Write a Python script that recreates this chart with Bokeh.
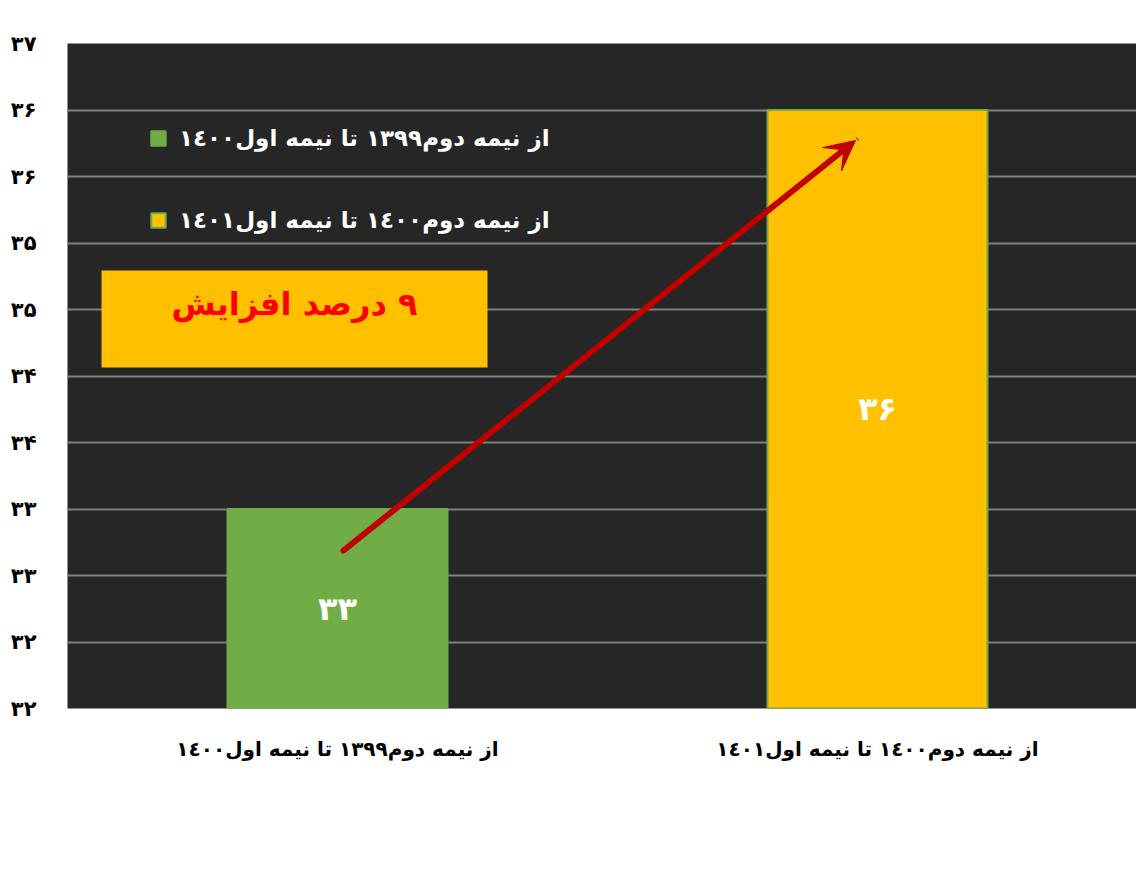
from bokeh.plotting import figure
from bokeh.models import (Range1d, FixedTicker, Legend, LegendItem, Arrow, VeeHead,
                          BoxAnnotation, Label, ColumnDataSource)
from bokeh.embed import file_html
from bokeh.resources import INLINE

# ---- data ----
categories = ["از نیمه دوم١٣٩٩ تا نیمه اول١٤٠٠", "از نیمه دوم١٤٠٠ تا نیمه اول١٤٠١"]
values = [33.5, 36.5]
value_labels = ["۳۳", "۳۶"]
bar_colors = ["#70AD47", "#FFC000"]
bar_lines = ["#70AD47", "#70AD47"]
y_ticks = [37, 36.5, 36, 35.5, 35, 34.5, 34, 33.5, 33, 32.5, 32]
y_tick_labels = ["۳۷", "۳۶", "۳۶", "۳۵", "۳۵", "۳۴", "۳۴", "۳۳", "۳۳", "۳۲", "۳۲"]
callout_text = "\u200f۹ درصد افزایش"
y_min, y_max = 32, 37

FONT = "DejaVu Sans"

W, H = 1136, 861
ML, MT = 67, 43
MB = H - MT - 665
frame_w = W - ML
slot_px = 540.0

xs = [i + 0.5 for i in range(len(categories))]
mids = [(v + y_min) / 2 for v in values]
src = ColumnDataSource(dict(x=xs, top=values, mid=mids, color=bar_colors,
                            line=bar_lines, lab=value_labels, cat=categories))

p = figure(width=W, height=H, x_range=Range1d(0, frame_w / slot_px),
           y_range=Range1d(y_min, y_max), output_backend="svg", toolbar_location=None,
           min_border_left=ML, min_border_right=0, min_border_top=MT,
           min_border_bottom=MB)
p.background_fill_color = "#262626"
p.border_fill_color = "white"
p.outline_line_color = None

p.xgrid.grid_line_color = None
p.ygrid.ticker = FixedTicker(ticks=y_ticks)
p.ygrid.grid_line_color = "#808080"
p.ygrid.grid_line_width = 2

bars = p.vbar(x="x", top="top", bottom=y_min, width=220 / slot_px, fill_color="color",
              line_color="line", line_width=2, source=src)

p.text(x="x", y="mid", text="lab", source=src, text_color="white",
       text_font_size="32px", text_font_style="bold", text_align="center",
       text_baseline="middle", text_font={"value": FONT})

# axes
p.yaxis.ticker = FixedTicker(ticks=y_ticks)
p.yaxis.major_label_overrides = {float(t): l for t, l in zip(y_ticks, y_tick_labels)}
p.xaxis.ticker = FixedTicker(ticks=xs)
p.xaxis.major_label_overrides = {float(x): c for x, c in zip(xs, categories)}
for ax in (p.xaxis[0], p.yaxis[0]):
    ax.axis_line_color = None
    ax.major_tick_line_color = None
    ax.minor_tick_line_color = None
    ax.major_label_text_color = "black"
    ax.major_label_text_font = FONT
    ax.major_label_text_font_style = "bold"
p.yaxis.major_label_text_font_size = "21px"
p.yaxis.major_label_standoff = 25
p.xaxis.major_label_text_font_size = "20px"
p.xaxis.major_label_standoff = 22

# callout box
y_per_px = (y_max - y_min) / 665.0
def px_y(py):
    return y_max - (py - 43) * y_per_px
def px_x(px):
    return (px - 67) / slot_px

box = BoxAnnotation(left=px_x(101), right=px_x(487), top=px_y(270), bottom=px_y(367),
                    fill_color="#FFC000", fill_alpha=1.0, line_color=None)
p.add_layout(box)
p.add_layout(Label(x=px_x(294), y=px_y(303), text=callout_text, text_color="#FF0000",
                   text_font=FONT, text_font_style="bold", text_font_size="32px",
                   text_align="center", text_baseline="middle"))

# arrow
arrow = Arrow(end=VeeHead(size=30, fill_color="#C00000", line_color="#C00000"),
              x_start=px_x(343), y_start=px_y(550), x_end=px_x(855), y_end=px_y(140),
              line_color="#C00000", line_width=6, line_cap="round")
p.add_layout(arrow)

# legend
items = [LegendItem(label=c, renderers=[bars], index=i) for i, c in enumerate(categories)]
legend = Legend(items=items, location="top_left", margin=82, padding=8,
                glyph_width=18, glyph_height=18, label_height=24, spacing=56,
                label_standoff=12, label_text_color="white", label_text_font=FONT,
                label_text_font_style="bold", label_text_font_size="23px",
                background_fill_alpha=0, border_line_color=None)
p.add_layout(legend)

open("out.html", "w").write(file_html(p, INLINE))
